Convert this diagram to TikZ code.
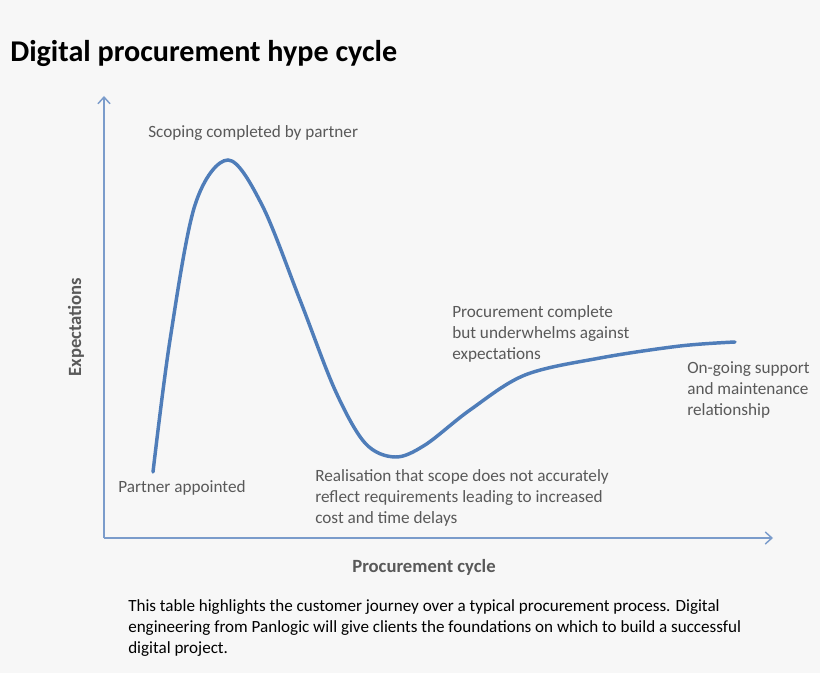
\documentclass[tikz,border=0pt]{standalone}
\usetikzlibrary{arrows.meta}
\usepackage{fontspec}
\setmainfont{Carlito}
\definecolor{bg}{HTML}{F7F7F7}
\definecolor{axis}{HTML}{7B9CCB}
\definecolor{curve}{HTML}{4F7DB9}
\definecolor{txt}{HTML}{595959}
\begin{document}
\begin{tikzpicture}[x=0.75pt,y=-0.75pt,
  lbl/.style={text=txt,font=\fontsize{12.9}{15.75}\selectfont,align=left,inner sep=0pt},
  axlbl/.style={text=txt,font=\fontsize{14}{16}\selectfont\bfseries,inner sep=0pt},
  axarrow/.style={draw=axis,line width=1.1pt,-{Straight Barb[length=5pt,width=9pt]}}]
\fill[bg] (0,0) rectangle (820,673);
\useasboundingbox (0,0) rectangle (820,673);
\node[anchor=west,inner sep=0pt,font=\fontsize{22.6}{26}\selectfont\bfseries] (title) at (10,53) {Digital procurement hype cycle};
\coordinate (o) at (104,538);
\coordinate (ytop) at (104,96);
\coordinate (xend) at (773,538);
\draw[axarrow] (o) -- (ytop);
\draw[axarrow] (o) -- (xend);
\draw[curve,line width=2.6pt,line cap=round] plot[smooth,tension=0.55] coordinates {(153,472) (170,340) (195,205) (228,160) (262,205) (300,300) (335,390) (365,443) (395,457) (425,445) (470,410) (525,375) (600,358) (680,346) (735,342)};
\node[lbl,anchor=west] (scope) at (148,133) {Scoping completed by partner};
\node[lbl,anchor=west] (partner) at (118,488) {Partner appointed};
\node[lbl,anchor=north west] (real) at (315,469) {Realisation that scope does not accurately\\reflect requirements leading to increased\\cost and time delays};
\node[lbl,anchor=north west] (proc) at (452,305) {Procurement complete\\but underwhelms against\\expectations};
\node[lbl,anchor=north west] (ongo) at (687,361) {On-going support\\and maintenance\\relationship};
\node[axlbl,rotate=90] (ylab) at (76,327) {Expectations};
\node[axlbl] (xlab) at (424,567) {Procurement cycle};
\node[anchor=north west,inner sep=0pt,align=left,font=\fontsize{12.8}{15.75}\selectfont] (note) at (128,599) {This table highlights the customer journey over a typical procurement process. Digital\\engineering from Panlogic will give clients the foundations on which to build a successful\\digital project.};
\end{tikzpicture}
\end{document}
